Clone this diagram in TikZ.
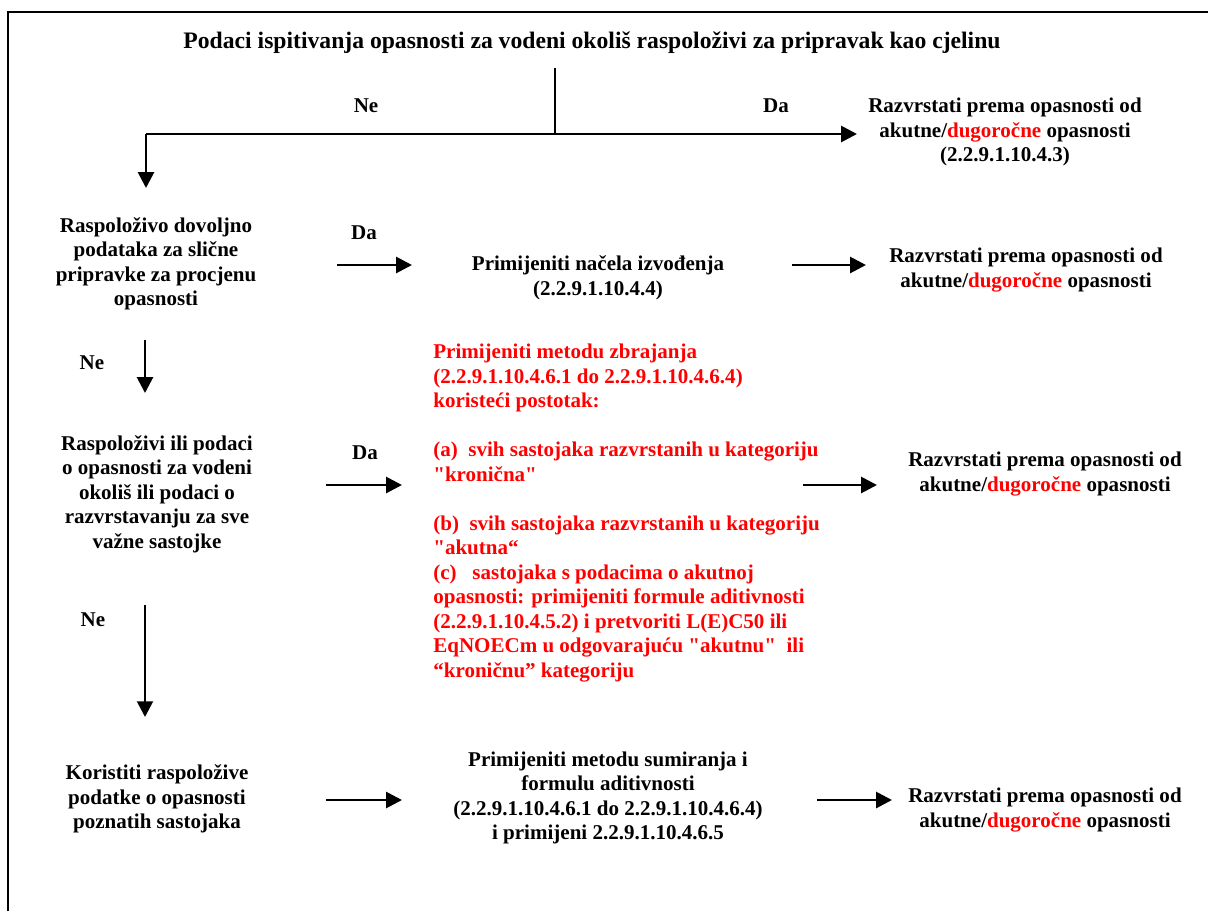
\documentclass[tikz,border=0pt]{standalone}
\usepackage{fontspec}
\setmainfont{Liberation Serif}
\usetikzlibrary{arrows.meta}

\begin{document}
\begin{tikzpicture}[x=0.571pt,y=-0.571pt,
    txt/.style={font=\fontsize{12}{14}\selectfont\bfseries,align=center,inner sep=0pt},
    redtxt/.style={txt,align=left,text=red},
    arr/.style={-{Triangle[length=9pt,width=9pt]},line width=1.6pt}]
        \useasboundingbox (0,0) rectangle (1208,911);
        % frame
        \draw[line width=1.1pt] (8,911) -- (8,12) -- (1208,12);

        % top question
        \node[txt,font=\fontsize{13.5}{16}\selectfont\bfseries] (title) at (592,43) {Podaci ispitivanja opasnosti za vodeni okoliš raspoloživi za pripravak kao cjelinu};
        \coordinate (t0) at (555,68);
        \coordinate (t1) at (555,134);
        \coordinate (tl) at (146,134);
        \coordinate (tr) at (857,134);
        \draw[line width=0.6pt] (t0) -- (t1);
        \draw[arr] (tl) -- (tr);
        \node[txt] (ne0) at (366,106) {Ne};
        \node[txt] (da0) at (776,106) {Da};
        \node[txt] (res0) at (1005,132) {Razvrstati prema opasnosti od\\
            akutne/\textcolor{red}{dugoročne} opasnosti\\(2.2.9.1.10.4.3)};

        % row 1
        \node[txt] (q1) at (156,264) {Raspoloživo dovoljno\\podataka za slične\\pripravke za procjenu\\opasnosti};
        \coordinate (q1b) at (146,188);
        \draw[arr] (tl) -- (q1b);
        \node[txt] (da1) at (364,233) {Da};
        \node[txt] (a1) at (598,278) {Primijeniti načela izvođenja\\(2.2.9.1.10.4.4)};
        \node[txt] (r1) at (1026,270) {Razvrstati prema opasnosti od\\
            akutne/\textcolor{red}{dugoročne} opasnosti};
        \coordinate (q1e) at (337,265);
        \coordinate (a1w) at (412,265);
        \coordinate (a1e) at (792,265);
        \coordinate (r1w) at (866,265);
        \draw[arr] (q1e) -- (a1w);
        \draw[arr] (a1e) -- (r1w);

        % row 2
        \coordinate (q1s) at (145,340);
        \coordinate (q2n) at (145,393);
        \draw[arr] (q1s) -- (q2n);
        \node[txt] (ne1) at (92,363) {Ne};
        \node[txt] (q2) at (157,494) {Raspoloživi ili podaci\\o opasnosti za vodeni\\okoliš ili podaci o\\razvrstavanju za sve\\važne sastojke};
        \node[txt] (da2) at (365,453) {Da};
        \node[redtxt,anchor=west] (a2) at (433,513) {Primijeniti metodu zbrajanja\\
            (2.2.9.1.10.4.6.1 do 2.2.9.1.10.4.6.4)\\
            koristeći postotak:\\[\baselineskip]
            (a)\ \ svih sastojaka razvrstanih u kategoriju\\
            \textquotedbl kronična\textquotedbl\\[\baselineskip]
            (b)\ \ svih sastojaka razvrstanih u kategoriju\\
            \textquotedbl akutna“\\
            (c)\ \ \ sastojaka s podacima o akutnoj\\
            opasnosti: primijeniti formule aditivnosti\\
            (2.2.9.1.10.4.5.2) i pretvoriti L(E)C50 ili\\
            EqNOECm u odgovarajuću \textquotedbl akutnu\textquotedbl\ \ ili\\
            “kroničnu” kategoriju};
        \node[txt] (r2) at (1045,474) {Razvrstati prema opasnosti od\\
            akutne/\textcolor{red}{dugoročne} opasnosti};
        \coordinate (q2e) at (326,485);
        \coordinate (a2w) at (402,485);
        \coordinate (a2e) at (803,485);
        \coordinate (r2w) at (877,485);
        \draw[arr] (q2e) -- (a2w);
        \draw[arr] (a2e) -- (r2w);

        % row 3
        \coordinate (q2s) at (145,605);
        \coordinate (q3n) at (145,717);
        \draw[arr] (q2s) -- (q3n);
        \node[txt] (ne2) at (93,620) {Ne};
        \node[txt] (q3) at (157,799) {Koristiti raspoložive\\podatke o opasnosti\\poznatih sastojaka};
        \node[txt] (a3) at (608,798) {Primijeniti metodu sumiranja i\\formulu aditivnosti\\
            (2.2.9.1.10.4.6.1 do 2.2.9.1.10.4.6.4)\\i primijeni 2.2.9.1.10.4.6.5};
        \node[txt] (r3) at (1045,810) {Razvrstati prema opasnosti od\\
            akutne/\textcolor{red}{dugoročne} opasnosti};
        \coordinate (q3e) at (326,800);
        \coordinate (a3w) at (402,800);
        \coordinate (a3e) at (817,800);
        \coordinate (r3w) at (892,800);
        \draw[arr] (q3e) -- (a3w);
        \draw[arr] (a3e) -- (r3w);
    \end{tikzpicture}
\end{document}
